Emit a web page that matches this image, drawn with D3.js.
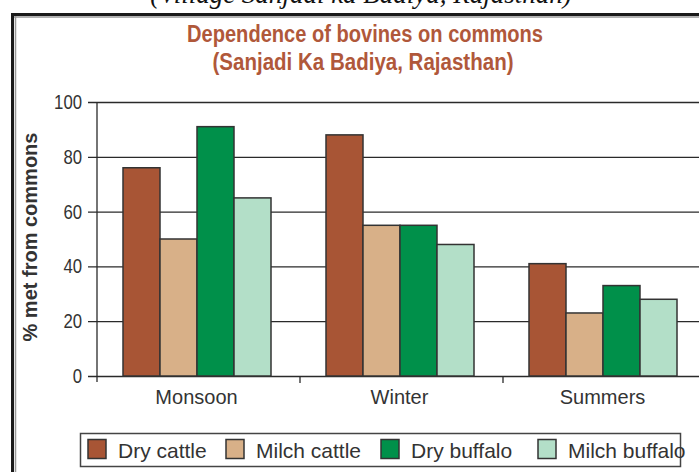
<!DOCTYPE html>
<html>
<head>
<meta charset="utf-8">
<script src="https://cdn.jsdelivr.net/npm/d3@7"></script>
<style>
  body { margin: 0; background: #fff; }
  svg { display: block; }
</style>
</head>
<body>
<div id="chart"></div>
<script>
var seasons = ["Monsoon", "Winter", "Summers"];
var series = ["Dry cattle", "Milch cattle", "Dry buffalo", "Milch buffalo"];
var dryCattle = [76, 88, 41];
var milchCattle = [50, 55, 23];
var dryBuffalo = [91, 55, 33];
var milchBuffalo = [65, 48, 28];
var yTicks = [0, 20, 40, 60, 80, 100];
var colors = ["#a85535", "#d8b088", "#00904a", "#b3dfc8"];

var values = [dryCattle, milchCattle, dryBuffalo, milchBuffalo];
var rows = [];
seasons.forEach(function (s, i) {
  series.forEach(function (k, j) {
    rows.push({ season: s, key: k, value: values[j][i] });
  });
});

var svg = d3.select("#chart").append("svg")
            .attr("width", 699)
            .attr("height", 472);

// caption of the page above, cut off at the top edge as in the scan
svg.append("text")
   .attr("x", 361)
   .attr("y", 3)
   .attr("text-anchor", "middle")
   .style("font-family", "Liberation Serif")
   .style("font-style", "italic")
   .style("font-size", "27px")
   .style("fill", "#111")
   .text("(Village Sanjadi ka Badiya, Rajasthan)");

// frame
svg.append("line").attr("x1", 11).attr("x2", 699).attr("y1", 17).attr("y2", 17)
   .style("stroke", "#999").style("stroke-width", 1.5);
svg.append("line").attr("x1", 15.5).attr("x2", 15.5).attr("y1", 16).attr("y2", 472)
   .style("stroke", "#999").style("stroke-width", 1.5);
svg.append("line").attr("x1", 11).attr("x2", 699).attr("y1", 14.5).attr("y2", 14.5)
   .style("stroke", "#1a1a1a").style("stroke-width", 3);
svg.append("line").attr("x1", 12.5).attr("x2", 12.5).attr("y1", 13).attr("y2", 472)
   .style("stroke", "#1a1a1a").style("stroke-width", 3);

// titles
svg.append("text")
   .attr("x", 365)
   .attr("y", 42)
   .attr("text-anchor", "middle")
   .attr("textLength", 356)
   .attr("lengthAdjust", "spacingAndGlyphs")
   .style("font-family", "Liberation Sans, Arial, sans-serif")
   .style("font-weight", "bold")
   .style("font-size", "23px")
   .style("fill", "#b0583a")
   .text("Dependence of bovines on commons");

svg.append("text")
   .attr("x", 363)
   .attr("y", 70)
   .attr("text-anchor", "middle")
   .attr("textLength", 301)
   .attr("lengthAdjust", "spacingAndGlyphs")
   .style("font-family", "Liberation Sans, Arial, sans-serif")
   .style("font-weight", "bold")
   .style("font-size", "23px")
   .style("fill", "#b0583a")
   .text("(Sanjadi Ka Badiya, Rajasthan)");

var x0 = d3.scaleBand().domain(seasons).range([97, 706]).padding(0);
var x1 = d3.scaleBand().domain(series).range([26, 174]).padding(0);
var y = d3.scaleLinear().domain([0, 100]).range([376, 102]);

// gridlines + y axis
var yAxis = d3.axisLeft(y)
              .tickValues(yTicks)
              .tickSize(-(699 - 88))
              .tickSizeOuter(0)
              .tickPadding(6);

var yAxisG = svg.append("g")
                .attr("transform", "translate(88,0)")
                .call(yAxis);
yAxisG.select(".domain").remove();
yAxisG.selectAll(".tick line")
      .style("stroke", "#2a2a2a")
      .style("stroke-width", 1.3);
yAxisG.selectAll(".tick text")
      .attr("textLength", function (d) { return String(d).length * 9.3; })
      .attr("lengthAdjust", "spacingAndGlyphs")
      .style("font-family", "Liberation Sans, Arial, sans-serif")
      .style("font-size", "20px")
      .style("fill", "#333");

svg.append("line")
   .attr("x1", 97).attr("x2", 97)
   .attr("y1", y(100)).attr("y2", 382)
   .style("stroke", "#2a2a2a")
   .style("stroke-width", 1.3);

// bars
svg.append("g").selectAll("rect")
   .data(rows)
   .enter()
   .append("rect")
   .attr("x", function (d) { return x0(d.season) + x1(d.key); })
   .attr("y", function (d) { return y(d.value); })
   .attr("width", x1.bandwidth())
   .attr("height", function (d) { return y(0) - y(d.value); })
   .style("fill", function (d) { return colors[series.indexOf(d.key)]; })
   .style("stroke", "#333")
   .style("stroke-width", 1.5);

// x axis
var xAxis = d3.axisBottom(x0).tickSize(0).tickPadding(14);
var xAxisG = svg.append("g")
                .attr("transform", "translate(0,376)")
                .call(xAxis);
xAxisG.select(".domain").remove();
xAxisG.selectAll(".tick text")
      .attr("x", -2)
      .style("font-family", "Liberation Sans, Arial, sans-serif")
      .style("font-size", "20px")
      .style("fill", "#333");

svg.append("g").selectAll("line")
   .data(seasons.slice(1))
   .enter()
   .append("line")
   .attr("x1", function (d) { return x0(d); })
   .attr("x2", function (d) { return x0(d); })
   .attr("y1", 376)
   .attr("y2", 383)
   .style("stroke", "#2a2a2a")
   .style("stroke-width", 1.3);

// y label
svg.append("text")
   .attr("transform", "translate(37,237) rotate(-90)")
   .attr("text-anchor", "middle")
   .style("font-family", "Liberation Sans, Arial, sans-serif")
   .style("font-weight", "bold")
   .style("font-size", "20px")
   .style("fill", "#333")
   .text("% met from commons");

// legend
svg.append("rect")
   .attr("x", 80.5).attr("y", 433.5)
   .attr("width", 600).attr("height", 33)
   .style("fill", "#fff")
   .style("stroke", "#444")
   .style("stroke-width", 1.5);

var legendX = [88, 226, 381, 538];
var legend = svg.append("g").selectAll("g")
                .data(series)
                .enter()
                .append("g")
                .attr("transform", function (d, i) { return "translate(" + legendX[i] + ",0)"; });
legend.append("rect")
      .attr("x", 0).attr("y", 439.5)
      .attr("width", 18).attr("height", 19)
      .style("fill", function (d, i) { return colors[i]; })
      .style("stroke", "#333")
      .style("stroke-width", 1.5);
legend.append("text")
      .attr("x", 30).attr("y", 458)
      .style("font-family", "Liberation Sans, Arial, sans-serif")
      .style("font-size", "21px")
      .style("fill", "#333")
      .text(function (d) { return d; });
</script>
</body>
</html>
